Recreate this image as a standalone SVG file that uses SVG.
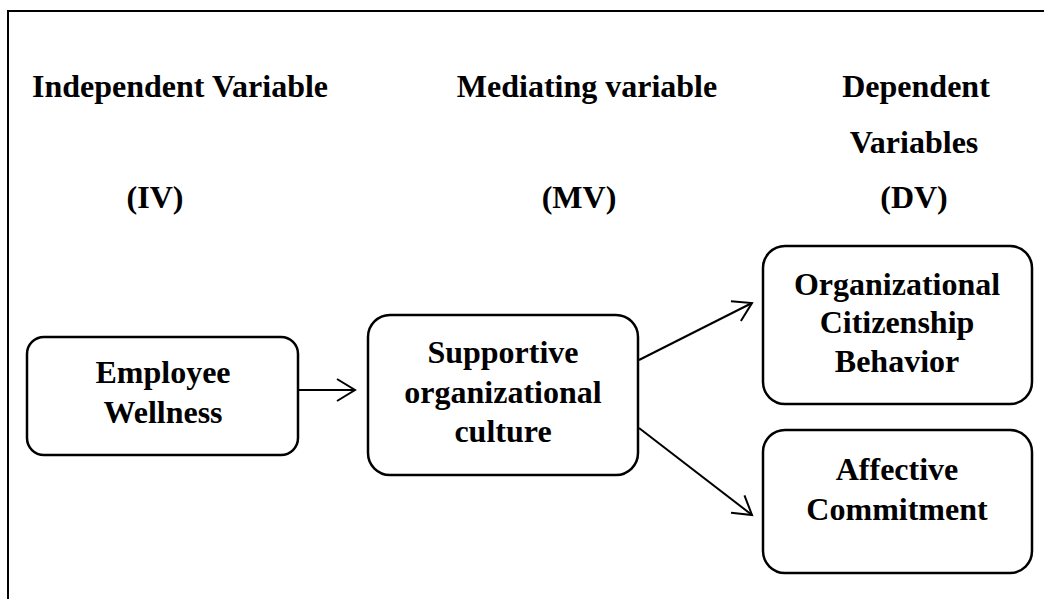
<svg xmlns="http://www.w3.org/2000/svg" width="1044" height="599" viewBox="0 0 1044 599">
  <style>
    text { font-family: "Liberation Serif", "Times New Roman", serif; font-weight: bold; font-size: 32px; fill: #000; text-anchor: middle; }
    .box { fill: #fff; stroke: #000; stroke-width: 2.5; }
    .frame { fill: none; stroke: #000; stroke-width: 2; }
    .link { fill: none; stroke: #000; stroke-width: 2; marker-end: url(#open-arrow); }
  </style>
  <defs>
    <marker id="open-arrow" markerUnits="userSpaceOnUse" markerWidth="24" markerHeight="28" refX="19" refY="12" orient="auto" viewBox="0 0 24 24">
      <path d="M1,1 L19,12 L1,23" fill="none" stroke="#000" stroke-width="2" stroke-linejoin="miter"/>
    </marker>
  </defs>

  <rect width="1044" height="599" fill="#fff"/>
  <!-- outer frame (runs off the right and bottom edges) -->
  <path class="frame" d="M8,620 L8,11 L1060,11"/>

  <!-- column headings -->
  <g id="headings">
    <text x="180" y="97">Independent Variable</text>
    <text x="587" y="97">Mediating variable</text>
    <text x="916" y="97">Dependent</text>
    <text x="914" y="153">Variables</text>
    <text x="155" y="208">(IV)</text>
    <text x="579" y="208">(MV)</text>
    <text x="914" y="208">(DV)</text>
  </g>

  <g id="connectors">
    <line class="link" x1="298" y1="390" x2="355" y2="390"/>
    <line class="link" x1="639" y1="360" x2="752" y2="303"/>
    <line class="link" x1="639" y1="428" x2="752" y2="515"/>
  </g>

  <g id="employee-wellness" class="node">
    <rect class="box" x="27" y="337" width="271" height="118" rx="17"/>
    <text x="163" y="383">Employee</text>
    <text x="163" y="423">Wellness</text>
  </g>

  <g id="supportive-culture" class="node">
    <rect class="box" x="368" y="315" width="270" height="160" rx="22"/>
    <text x="503" y="363">Supportive</text>
    <text x="503" y="403">organizational</text>
    <text x="503" y="442">culture</text>
  </g>

  <g id="ocb" class="node">
    <rect class="box" x="763" y="246" width="269" height="158" rx="22"/>
    <text x="897" y="295">Organizational</text>
    <text x="897" y="333">Citizenship</text>
    <text x="897" y="372">Behavior</text>
  </g>

  <g id="affective-commitment" class="node">
    <rect class="box" x="763" y="430" width="269" height="143" rx="22"/>
    <text x="897" y="480">Affective</text>
    <text x="897" y="520">Commitment</text>
  </g>
</svg>
